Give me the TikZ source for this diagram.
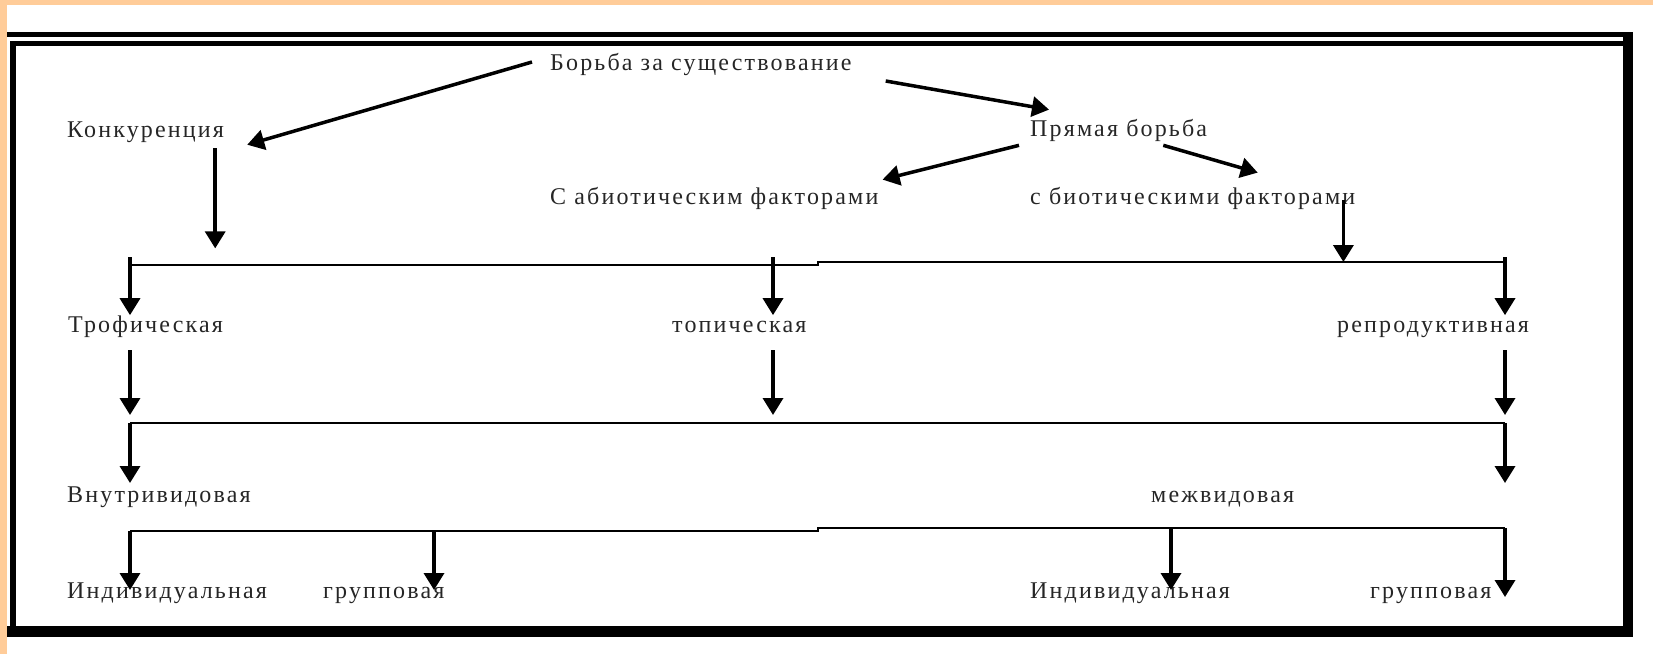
\documentclass[tikz,border=0pt]{standalone}
\usepackage{fontspec}
\setmainfont{Liberation Serif}[LetterSpace=9]
\usetikzlibrary{arrows.meta}
\definecolor{slideorange}{RGB}{255,204,153}

\begin{document}
\begin{tikzpicture}[x=1pt,y=-1pt,
  lbl/.style={anchor=base west, inner sep=0pt, text=black!85, font=\fontsize{24}{28}\selectfont},
  arr/.style={line width=3.5pt, -{Triangle[width=20pt,length=17pt]}},
  bus/.style={line width=2pt}]
\useasboundingbox (0,0) rectangle (1653,654);

% slide edge
\fill[slideorange] (0,0) rectangle (1653,5);
\fill[slideorange] (0,0) rectangle (7,654);

% frame
\draw[line width=5pt] (7,34.5) -- (1633,34.5);
\draw[line width=5pt] (10,43.5) -- (1623,43.5);
\draw[line width=6pt] (13,41) -- (13,637);
\draw[line width=10pt] (1628,32) -- (1628,637);
\draw[line width=11pt] (7,631.5) -- (1633,631.5);

% top
\node[lbl] (borba) at (550,70) {Борьба за существование};
\node[lbl] (konk) at (67,137) {Конкуренция};
\node[lbl] (pryam) at (1030,136) {Прямая борьба};
\node[lbl] (abio) at (550,204) {С абиотическим факторами};
\node[lbl] (bio) at (1030,204) {с биотическими факторами};
\draw[arr] ([shift={(-18,-2)}]borba.west) -- ([shift={(23,13)}]konk.east);
\draw[arr] ([shift={(34,17)}]borba.east) -- ([shift={(19,-9)}]pryam.north west);
\draw[arr] ([shift={(-11,4)}]pryam.south west) -- ([shift={(4,-7)}]abio.north east);
\draw[arr] ([shift={(-44,4)}]pryam.south east) -- ([shift={(65,-14)}]bio.north);

% first bus
\coordinate (j1) at (130,265);
\coordinate (j2) at (773,265);
\coordinate (jstep) at (818,265);
\coordinate (j3) at (1505,262);
\draw[bus] (j1) -- (jstep) -- (jstep |- j3) -- (j3);
\draw[arr] ([shift={(-9,6)}]konk.south east) -- ++(0,100);
\coordinate (bd) at ([shift={(-12,2)}]bio.east);
\draw[arr] (bd) -- (bd |- j3);

% trophic / topic / reproductive
\node[lbl] (trof) at (68,332) {Трофическая};
\node[lbl] (topi) at (672,332) {топическая};
\node[lbl] (repr) at (1337,332) {репродуктивная};
\draw[arr] ([shift={(0,-8)}]j1) -- (j1 |- trof.north);
\draw[arr] ([shift={(0,-8)}]j2) -- (j2 |- trof.north);
\draw[arr] ([shift={(0,-5)}]j3) -- (j3 |- trof.north);

% second bus
\coordinate (k1) at (130,423);
\coordinate (k3) at (1505,423);
\draw[bus] (k1) -- (k3);
\draw[arr] (k1) ++(0,-73) -- ++(0,65);
\draw[arr] (j2 |- k1) ++(0,-73) -- ++(0,65);
\draw[arr] (k3) ++(0,-73) -- ++(0,65);
\draw[arr] (k1) -- ++(0,60);
\draw[arr] (k3) -- ++(0,60);

% intra / inter
\node[lbl] (vnutr) at (67,502) {Внутривидовая};
\node[lbl] (mezh) at (1151,502) {межвидовая};

% third bus
\coordinate (m1) at (130,531);
\coordinate (m2) at (434,531);
\coordinate (mstep) at (818,531);
\coordinate (m4) at (1171,528);
\coordinate (m3) at (1505,528);
\draw[bus] (m1) -- (mstep) -- (mstep |- m3) -- (m3);

\node[lbl] (ind1) at (67,598) {Индивидуальная};
\node[lbl] (grp1) at (323,598) {групповая};
\node[lbl] (ind2) at (1030,598) {Индивидуальная};
\node[lbl] (grp2) at (1370,598) {групповая};
\draw[arr] (m1) -- ++(0,59);
\draw[arr] (m2) -- ++(0,59);
\draw[arr] (m4) -- ++(0,62);
\draw[arr] (m3) -- ++(0,69);
\end{tikzpicture}
\end{document}
